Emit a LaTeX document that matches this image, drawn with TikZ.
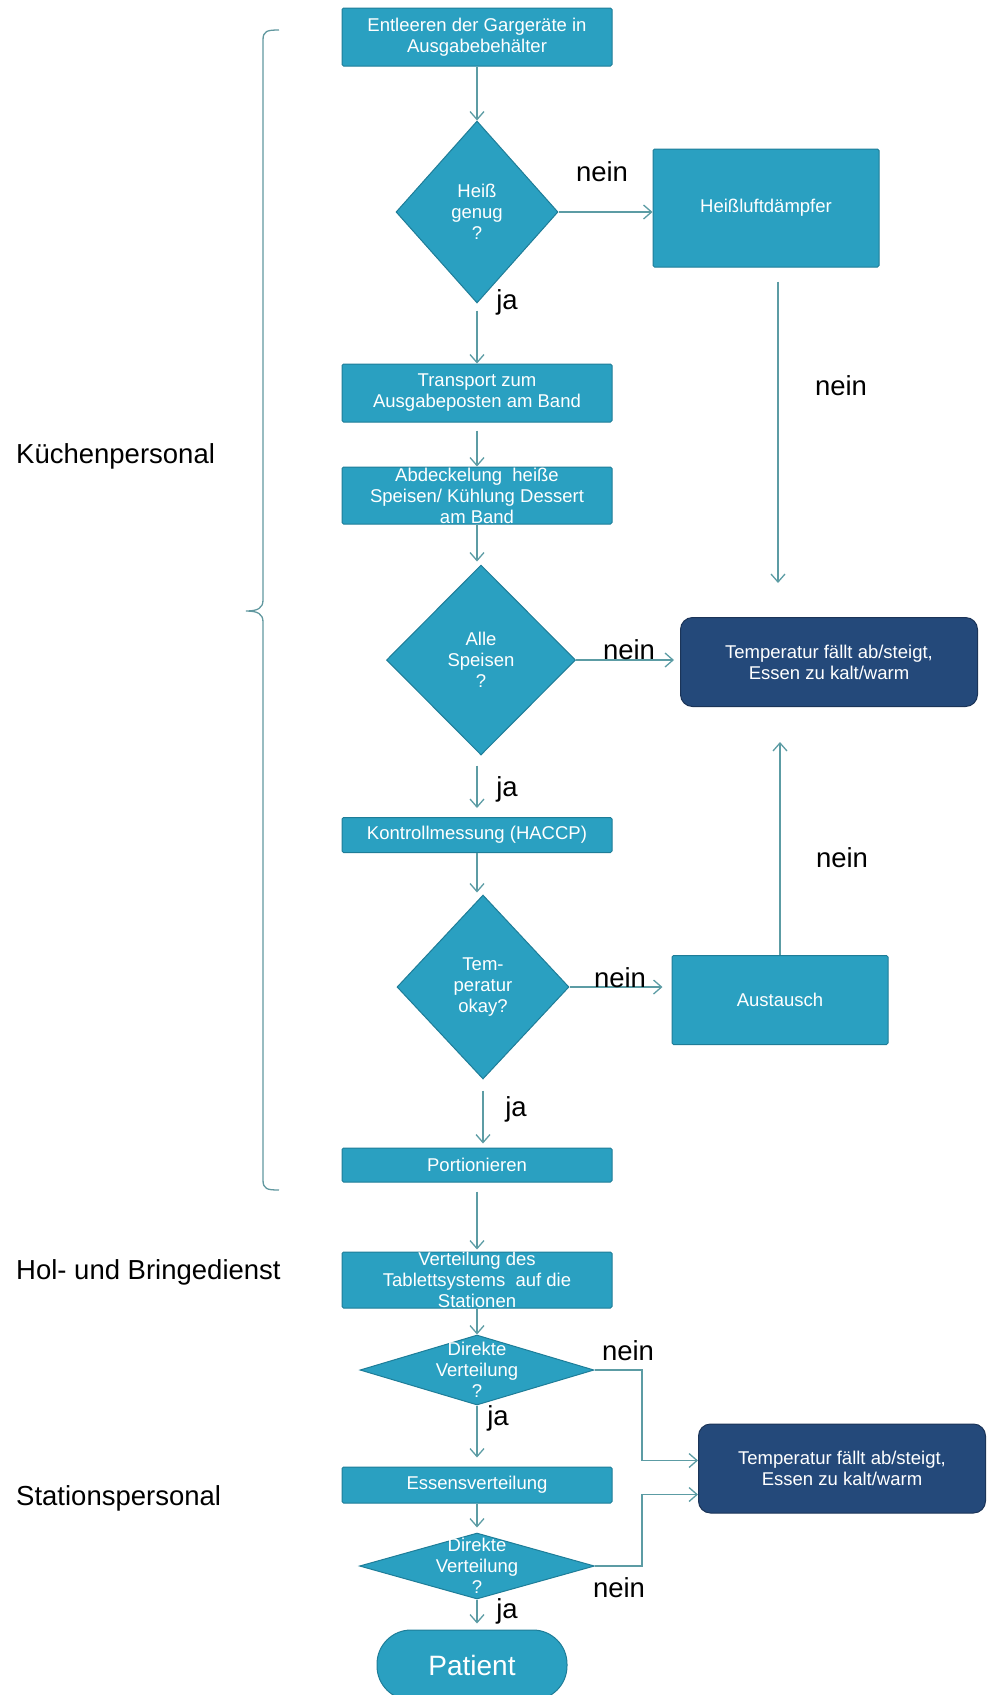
\documentclass[tikz,border=0pt]{standalone}
\usepackage{fontspec}
\setmainfont{Liberation Sans}
\usepackage{tikz}
\usetikzlibrary{shapes.geometric,arrows.meta}
\definecolor{boxblue}{RGB}{42,160,193}
\definecolor{boxedge}{RGB}{30,125,152}
\definecolor{darkbox}{RGB}{36,73,122}
\definecolor{darkedge}{RGB}{27,52,88}
\definecolor{flowline}{RGB}{92,156,164}
\newcommand{\boxfont}{\fontsize{18.5}{21}\selectfont}
\newcommand{\labfont}{\fontsize{27.5}{30}\selectfont}
\tikzset{
  proc/.style={draw=boxedge,fill=boxblue,text=white,font=\boxfont,align=center,line width=1pt,rounded corners=1.5pt,inner sep=2pt,minimum width=270pt},
  decision/.style={diamond,draw=boxedge,fill=boxblue,line width=1pt,inner sep=0pt},
  dtext/.style={text=white,font=\boxfont,align=center,inner sep=0pt},
  warn/.style={draw=darkedge,fill=darkbox,text=white,font=\boxfont,align=center,rounded corners=12pt,line width=1pt},
  flow/.style={draw=flowline,line width=1.3pt,-{Straight Barb[length=8pt,width=14pt]}},
  answer/.style={font=\labfont,inner sep=0pt},
  role/.style={font=\labfont,inner sep=0pt,anchor=west},
  brace/.style={draw=flowline!85!gray,line width=1.3pt}
}

\begin{document}
\begin{tikzpicture}[x=1pt,y=-1pt]
\useasboundingbox (0,0) rectangle (986,1695);
\clip (0,0) rectangle (986,1695);

\node[proc,minimum height=58pt] (entleeren) at (477,37) {Entleeren der Gargeräte in\\Ausgabebehälter};
\node[decision,minimum width=162pt,minimum height=182pt,label={[dtext]center:{Heiß\\genug\\?}}] (heissq) at (477,212) {};
\node[proc,minimum width=226pt,minimum height=118pt] (hld) at (766,208) {Heißluftdämpfer};
\node[proc,minimum height=58pt] (transport) at (477,393) {Transport zum\\Ausgabeposten am Band};
\node[proc,minimum height=57pt,label={[dtext]center:{Abdeckelung\ \ heiße\\Speisen/ Kühlung Dessert\\am Band}}] (abdeck) at (477,495.5) {};
\node[decision,minimum width=189pt,minimum height=190pt,label={[dtext]center:{Alle\\Speisen\\?}}] (alleq) at (481,660) {};
\node[warn,minimum width=297pt,minimum height=89pt] (temp1) at (829,662) {Temperatur fällt ab/steigt,\\Essen zu kalt/warm};
\node[proc,minimum height=35pt] (kontroll) at (477,835) {Kontrollmessung (HACCP)};
\node[decision,minimum width=172pt,minimum height=184pt,label={[dtext]center:{Tem-\\peratur\\okay?}}] (tempq) at (483,987) {};
\node[proc,minimum width=216pt,minimum height=89pt] (tausch) at (780,1000) {Austausch};
\node[proc,minimum height=34pt] (portion) at (477,1165) {Portionieren};
\node[proc,minimum height=56pt,label={[dtext]center:{Verteilung des\\Tablettsystems\ \ auf die\\Stationen}}] (verteil) at (477,1280) {};
\node[decision,minimum width=234pt,minimum height=70pt,label={[dtext]center:{Direkte\\Verteilung\\?}}] (direkt1) at (477,1370) {};
\node[proc,minimum height=36pt] (essen) at (477,1485) {Essensverteilung};
\node[decision,minimum width=235pt,minimum height=66pt,label={[dtext]center:{Direkte\\Verteilung\\?}}] (direkt2) at (477,1566) {};
\node[warn,minimum width=287pt,minimum height=89pt] (temp2) at (842,1468.5) {Temperatur fällt ab/steigt,\\Essen zu kalt/warm};
\node[proc,minimum width=190pt,minimum height=70pt,rounded corners=34pt,font=\fontsize{28}{30}\selectfont] (patient) at (472,1665) {Patient};

\node[role] (kueche) at (16,456) {Küchenpersonal};
\node[role] (holbring) at (16,1272) {Hol- und Bringedienst};
\node[role] (station) at (16,1498) {Stationspersonal};

\draw[brace] (279,30) .. controls (267,30) and (263,31) .. (263,40) -- (263,600) .. controls (263,608) and (258,611) .. (246,611) .. controls (258,611) and (263,614) .. (263,622) -- (263,1180) .. controls (263,1189) and (267,1190) .. (279,1190);

\draw[flow] (entleeren) -- (heissq);
\draw[flow] (heissq.east) -- (heissq.east -| hld.west);
\draw[flow,shorten <=7pt] (heissq) -- (transport);
\draw[flow,shorten <=8pt] (transport) -- (abdeck);
\draw[flow,shorten >=3pt] (abdeck.south) -- (abdeck.south |- alleq.north);
\draw[flow,shorten <=14pt,shorten >=34pt] ([xshift=12pt]hld.south) -- ([xshift=12pt]hld.south |- temp1.north);
\draw[flow,shorten >=6pt] (alleq.east) -- (alleq.east -| temp1.west);
\draw[flow,shorten <=10pt,shorten >=9pt] (alleq.south -| kontroll.north) -- (kontroll.north);
\draw[flow,shorten >=2pt] (kontroll.south) -- (kontroll.south |- tempq.north);
\draw[flow,shorten >=9pt] (tempq.east) -- (tempq.east -| tausch.west);
\draw[flow,shorten >=35pt] (tausch.north) -- (tausch.north |- temp1.south);
\draw[flow,shorten <=11pt,shorten >=4pt] (tempq.south) -- (tempq.south |- portion.north);
\draw[flow,shorten <=9pt,shorten >=2pt] (portion) -- (verteil);
\draw[flow] (verteil) -- (direkt1);
\draw[flow] (direkt1.east) -| ([xshift=-56pt,yshift=8pt]temp2.west) -- ([yshift=8pt]temp2.west);
\draw[flow,shorten >=9pt] (direkt1) -- (essen);
\draw[flow,shorten >=5pt] (essen) -- (direkt2);
\draw[flow] (direkt2.east) -| ([xshift=-56pt,yshift=-26pt]temp2.west) -- ([yshift=-26pt]temp2.west);
\draw[flow,shorten >=6pt] (direkt2.south) -- (direkt2.south |- patient.north);

\node[answer] (nein1) at (602,172) {nein};
\node[answer] (ja1) at (507,302) {ja};
\node[answer] (nein2) at (841,386) {nein};
\node[answer] (nein3) at (629,650) {nein};
\node[answer] (ja2) at (507,789) {ja};
\node[answer] (nein4) at (620,978) {nein};
\node[answer] (nein5) at (842,858) {nein};
\node[answer] (ja3) at (516,1109) {ja};
\node[answer] (nein6) at (628,1351) {nein};
\node[answer] (ja4) at (498,1418) {ja};
\node[answer] (nein7) at (619,1588) {nein};
\node[answer] (ja5) at (507,1611) {ja};
\end{tikzpicture}
\end{document}
